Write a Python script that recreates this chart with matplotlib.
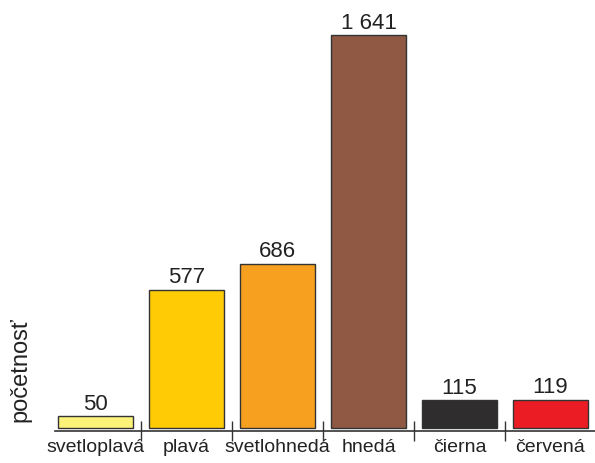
import numpy as np
import matplotlib.pyplot as plt

plt.rcParams['font.family'] = ['Liberation Sans', 'DejaVu Sans']

# data
categories = ['svetloplavá', 'plavá', 'svetlohnedá', 'hnedá', 'čierna', 'červená']
counts = [50, 577, 686, 1641, 115, 119]
bar_colors = ['#FBF279', '#FFCB05', '#F7A01F', '#8F5944', '#2F2D2E', '#EC1C24']

fig = plt.figure(figsize=(5.95, 4.63), dpi=100)
ax = fig.add_axes([55 / 595, 32 / 463, 540 / 595, 431 / 463])

x = np.arange(len(categories))
ax.bar(x, counts, width=0.83, color=bar_colors, edgecolor='#333333', linewidth=1.0)

for xi, v in zip(x, counts):
    txt = '{:,}'.format(v).replace(',', ' ')
    ax.text(xi, v + 6, txt, ha='center', va='bottom', fontsize=16, color='#222222')

ax.set_xlim(-0.445, len(categories) - 0.51)
ax.set_ylim(-12.5, 1787)

# labels centred under bars, small ticks between bars
ax.set_xticks(x)
ax.set_xticklabels(categories, fontsize=14, color='#222222')
ax.tick_params(axis='x', which='major', length=0, pad=6)
ax.set_xticks(x[:-1] + 0.5, minor=True)
ax.tick_params(axis='x', which='minor', direction='inout', length=14, width=1.0, color='#333333')

ax.set_yticks([])
for s in ['left', 'top', 'right']:
    ax.spines[s].set_visible(False)
ax.spines['bottom'].set_color('#333333')
ax.spines['bottom'].set_linewidth(1.2)

fig.text(20 / 595, 1 - 370 / 463, 'početnosť', rotation=90, ha='center', va='center',
         fontsize=17, color='#222222')

fig.savefig('out.png', dpi=100)
